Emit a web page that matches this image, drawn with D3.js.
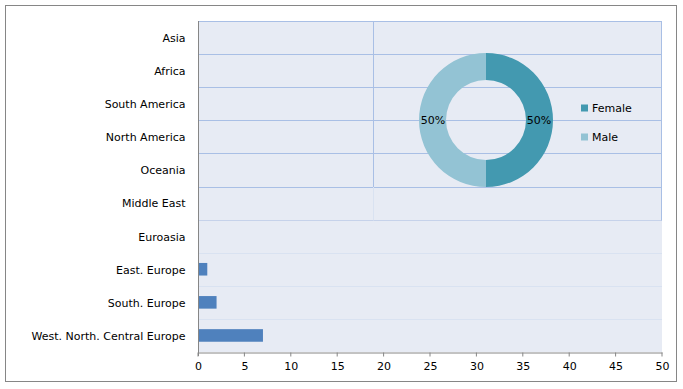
<!DOCTYPE html>
<html>
<head>
<meta charset="utf-8">
<script src="https://cdn.jsdelivr.net/npm/d3@7"></script>
<style>
  body { margin: 0; background: #fff; }
  svg text { font-family: "DejaVu Sans", sans-serif; font-size: 11px; fill: #000; }
</style>
</head>
<body>
<svg id="chart" width="683" height="389"></svg>
<script>
"use strict";

// regions, top to bottom
var regions = ["Asia", "Africa", "South America", "North America", "Oceania",
  "Middle East", "Euroasia", "East. Europe", "South. Europe", "West. North. Central Europe"];
var counts = [0, 0, 0, 0, 0, 0, 0, 1, 2, 7];
var xTicks = [0, 5, 10, 15, 20, 25, 30, 35, 40, 45, 50];

var genders = ["Female", "Male"];
var genderShare = [50, 50];
var genderColors = ["#4399b0", "#93c3d4"];

var svg = d3.select("#chart");

// outer frame
svg.append("rect")
  .attr("x", 5.5).attr("y", 5.5)
  .attr("width", 671).attr("height", 376)
  .attr("fill", "#fff")
  .attr("stroke", "#868686");

var pLeft = 198, pRight = 662, pTop = 21, pBottom = 352;

var x = d3.scaleLinear().domain([0, 50]).range([pLeft, pRight]);
var y = d3.scaleBand().domain(regions).range([pTop, pBottom]).paddingInner(0.62).paddingOuter(0.31);

svg.append("rect")
  .attr("x", pLeft).attr("y", pTop)
  .attr("width", pRight - pLeft).attr("height", pBottom - pTop)
  .attr("fill", "#e7ebf4");

// horizontal gridlines (row boundaries); upper ones sit under the donut frame and look stronger
var step = (pBottom - pTop) / regions.length;
var gridY = d3.range(regions.length).map(function(i) { return pTop + i * step; });
svg.selectAll(".grid").data(gridY).enter().append("line")
  .attr("class", "grid")
  .attr("x1", pLeft).attr("x2", pRight)
  .attr("y1", function(d) { return Math.round(d) + 0.5; })
  .attr("y2", function(d) { return Math.round(d) + 0.5; })
  .attr("stroke", function(d, i) { return i <= 5 ? "#a9bfe5" : (i == 6 ? "#c6d2ea" : "#d9e2f1"); });

// frame of the overlaid donut chart
var frameX = 373.5, frameBottom = Math.round(pTop + 6 * step) + 0.5;
svg.append("line")
  .attr("x1", frameX).attr("x2", frameX)
  .attr("y1", pTop).attr("y2", Math.round(pTop + 5 * step))
  .attr("stroke", "#a9bfe5");
svg.append("line")
  .attr("x1", frameX).attr("x2", frameX)
  .attr("y1", Math.round(pTop + 5 * step)).attr("y2", frameBottom)
  .attr("stroke", "#d9e2f1");
svg.append("line")
  .attr("x1", pRight - 0.5).attr("x2", pRight - 0.5)
  .attr("y1", pTop).attr("y2", frameBottom)
  .attr("stroke", "#a9bfe5");

// bars
svg.selectAll(".bar").data(counts).enter().append("rect")
  .attr("class", "bar")
  .attr("x", x(0))
  .attr("y", function(d, i) { return y(regions[i]); })
  .attr("width", function(d) { return x(d) - x(0); })
  .attr("height", y.bandwidth())
  .attr("fill", "#4f81bd");

// axes
var xAxis = svg.append("g")
  .attr("transform", "translate(0," + (pBottom + 0.5) + ")")
  .call(d3.axisBottom(x).tickValues(xTicks).tickSize(4).tickPadding(4).tickSizeOuter(0));
xAxis.select(".domain").attr("stroke", "#868686");
xAxis.selectAll(".tick line").attr("stroke", "#868686").attr("transform", "translate(-0.5,0)");
xAxis.selectAll(".tick text").attr("dy", "0.9em");

var yAxis = svg.append("g")
  .attr("transform", "translate(" + (pLeft + 0.5) + ",0)")
  .call(d3.axisLeft(y).tickSize(0).tickPadding(13));
yAxis.select(".domain").attr("stroke", "#868686").attr("d", "M0," + pTop + "V" + (pBottom + 4));
yAxis.selectAll(".tick text").attr("dy", "0.4em");

// donut
var cx = 486, cy = 120, rOuter = 67, rInner = 40;
var pie = d3.pie().sort(null).value(function(d) { return d; });
var arc = d3.arc().innerRadius(rInner).outerRadius(rOuter);
var donut = svg.append("g").attr("transform", "translate(" + cx + "," + cy + ")");
var slices = pie(genderShare);
donut.selectAll("path").data(slices).enter().append("path")
  .attr("d", arc)
  .attr("fill", function(d, i) { return genderColors[i]; });

var labelArc = d3.arc().innerRadius(rOuter - 14).outerRadius(rOuter - 14);
donut.selectAll(".pct").data(slices).enter().append("text")
  .attr("class", "pct")
  .attr("x", function(d) { return labelArc.centroid(d)[0]; })
  .attr("y", 0)
  .attr("dy", "0.35em")
  .attr("text-anchor", "middle")
  .text(function(d) { return d.value + "%"; });

// legend
var legend = svg.selectAll(".legend").data(genders).enter().append("g")
  .attr("class", "legend")
  .attr("transform", function(d, i) { return "translate(581," + (108 + i * 29) + ")"; });
legend.append("rect")
  .attr("x", 0).attr("y", -3.5)
  .attr("width", 7).attr("height", 7)
  .attr("fill", function(d, i) { return genderColors[i]; });
legend.append("text")
  .attr("x", 11).attr("dy", "0.35em")
  .text(function(d) { return d; });
</script>
</body>
</html>
